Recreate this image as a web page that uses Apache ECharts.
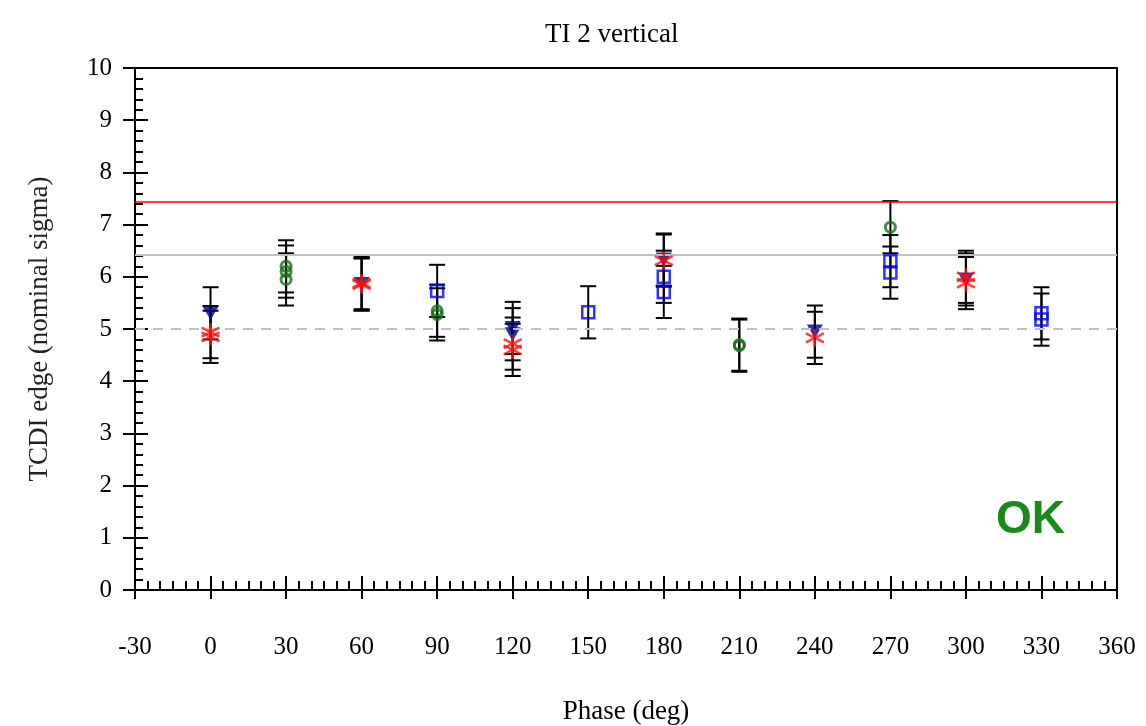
<!DOCTYPE html>
<html>
<head>
<meta charset="utf-8">
<script src="https://cdn.jsdelivr.net/npm/echarts@6/dist/echarts.min.js"></script>
<style>
  html, body { margin: 0; padding: 0; background: #fff; }
  #main { width: 1146px; height: 726px; }
</style>
</head>
<body>
<div id="main"></div>
<script>
// phase ticks
var xTicks = [-30, 0, 30, 60, 90, 120, 150, 180, 210, 240, 270, 300, 330, 360];

// navy down-triangles
var triPhase = [0, 60, 120, 120, 180, 240, 300];
var triVal   = [5.30, 5.86, 5.02, 4.90, 6.33, 4.95, 5.95];
var triErr   = [0.5, 0.5, 0.5, 0.5, 0.5, 0.5, 0.5];

// red asterisks
var starPhase = [0, 0, 60, 60, 120, 120, 180, 240, 300, 300];
var starVal   = [4.94, 4.85, 5.85, 5.88, 4.72, 4.60, 6.31, 4.83, 6.00, 5.88];
var starErr   = [0.5, 0.5, 0.5, 0.5, 0.5, 0.5, 0.5, 0.5, 0.5, 0.5];

// green circles
var circPhase = [30, 30, 30, 90, 90, 210, 210, 270];
var circVal   = [6.20, 6.10, 5.95, 5.35, 5.28, 4.68, 4.70, 6.95];
var circErr   = [0.5, 0.5, 0.5, 0.5, 0.5, 0.5, 0.5, 0.5];

// blue squares
var sqPhase = [90, 150, 180, 180, 270, 270, 330, 330];
var sqVal   = [5.73, 5.32, 6.00, 5.71, 6.30, 6.08, 5.30, 5.18];
var sqErr   = [0.5, 0.5, 0.5, 0.5, 0.5, 0.5, 0.5, 0.5];

// reference levels
var redLevel = 7.43;
var grayLevel = 6.43;
var dashLevel = 5.0;

function pts(ph, v) {
    var out = [];
    for (var i = 0; i < ph.length; i++) out.push([ph[i], v[i]]);
    return out;
}
function errs(ph, v, e) {
    var out = [];
    for (var i = 0; i < ph.length; i++) out.push([ph[i], v[i] - e[i], v[i] + e[i]]);
    return out;
}
var errData = [].concat(
    errs(triPhase, triVal, triErr),
    errs(starPhase, starVal, starErr),
    errs(circPhase, circVal, circErr),
    errs(sqPhase, sqVal, sqErr)
);

var serif = 'Liberation Serif';
var myChart = echarts.init(document.getElementById('main'));

function renderErr(params, api) {
    var x = api.value(0);
    var lo = api.coord([x, api.value(1)]);
    var hi = api.coord([x, api.value(2)]);
    var w = 8;
    var st = { stroke: '#000', lineWidth: 2 };
    return {
        type: 'group',
        children: [
            { type: 'line', shape: { x1: lo[0], y1: lo[1], x2: hi[0], y2: hi[1] }, style: st },
            { type: 'line', shape: { x1: lo[0] - w, y1: lo[1], x2: lo[0] + w, y2: lo[1] }, style: st },
            { type: 'line', shape: { x1: hi[0] - w, y1: hi[1], x2: hi[0] + w, y2: hi[1] }, style: st }
        ]
    };
}

var xBase = { type: 'value', min: -30, max: 360, interval: 30, splitLine: { show: false } };
var yBase = { type: 'value', min: 0, max: 10, interval: 1, splitLine: { show: false } };

myChart.setOption({
    animation: false,
    title: {
        text: 'TI 2 vertical',
        left: 540,
        top: 16,
        textStyle: { fontFamily: serif, fontSize: 27, fontWeight: 'normal', color: '#000' }
    },
    grid: {
        left: 135, right: 29, top: 68, bottom: 136,
        outerBoundsMode: 'none',
        containLabel: false,
        show: true, borderColor: '#000', borderWidth: 2, backgroundColor: 'transparent'
    },
    xAxis: [
        Object.assign({}, xBase, {
            position: 'bottom',
            name: 'Phase (deg)',
            nameLocation: 'middle',
            nameGap: 108,
            nameTextStyle: { fontFamily: serif, fontSize: 27, color: '#000' },
            axisLine: { onZero: false, lineStyle: { color: '#000', width: 2 } },
            axisTick: { inside: false, length: 9, lineStyle: { color: '#000', width: 2 } },
            axisLabel: {
                margin: 45, fontFamily: serif, fontSize: 25, color: '#000',
                formatter: function (v) { return xTicks.indexOf(v) >= 0 ? String(v) : ''; }
            }
        }),
        Object.assign({}, xBase, {
            position: 'bottom',
            axisLine: { show: false, onZero: false },
            axisLabel: { show: false },
            axisTick: { inside: true, length: 14, lineStyle: { color: '#000', width: 2 } },
            minorTick: { show: true, splitNumber: 6, length: 9, lineStyle: { color: '#000', width: 2 } }
        })
    ],
    yAxis: [
        Object.assign({}, yBase, {
            position: 'left',
            name: 'TCDI edge (nominal sigma)',
            nameLocation: 'middle',
            nameGap: 82,
            nameTextStyle: { fontFamily: serif, fontSize: 27, color: '#222' },
            axisLine: { onZero: false, lineStyle: { color: '#000', width: 2 } },
            axisTick: { inside: false, length: 12, lineStyle: { color: '#000', width: 2 } },
            axisLabel: { margin: 23, fontFamily: serif, fontSize: 25, color: '#000' }
        }),
        Object.assign({}, yBase, {
            position: 'left',
            axisLine: { show: false, onZero: false },
            axisLabel: { show: false },
            axisTick: { inside: true, length: 13, lineStyle: { color: '#000', width: 2 } },
            minorTick: { show: true, splitNumber: 5, length: 8, lineStyle: { color: '#000', width: 2 } }
        })
    ],
    graphic: [{
        type: 'text',
        left: 996,
        top: 497,
        style: { text: 'OK', font: 'bold 46px "Liberation Sans"', fill: '#1a8a1a' }
    }],
    series: [
        {
            type: 'line',
            data: [],
            markLine: {
                silent: true,
                symbol: 'none',
                label: { show: false },
                data: [
                    { yAxis: redLevel, lineStyle: { color: '#ff0000', width: 1.5, type: 'solid' } },
                    { yAxis: grayLevel, lineStyle: { color: '#c0c0c0', width: 2, type: 'solid' } },
                    { yAxis: dashLevel, lineStyle: { color: '#c0c0c0', width: 2, type: [10, 8] } }
                ]
            }
        },
        {
            type: 'custom',
            renderItem: renderErr,
            data: errData,
            z: 3,
            encode: { x: 0, y: [1, 2] }
        },
        {
            type: 'scatter',
            z: 4,
            symbol: 'path://M0,0L10,0L5,9Z',
            symbolSize: [16, 14],
            itemStyle: { color: '#000080' },
            data: pts(triPhase, triVal)
        },
        {
            type: 'scatter',
            z: 5,
            symbol: 'path://M0,-1L0,1M-0.87,-0.5L0.87,0.5M-0.87,0.5L0.87,-0.5',
            symbolSize: 18,
            itemStyle: { color: 'none', borderColor: '#ff1010', borderWidth: 2.5 },
            data: pts(starPhase, starVal)
        },
        {
            type: 'scatter',
            z: 5,
            symbol: 'circle',
            symbolSize: 10,
            itemStyle: { color: 'none', borderColor: '#167016', borderWidth: 3 },
            data: pts(circPhase, circVal)
        },
        {
            type: 'scatter',
            z: 5,
            symbol: 'rect',
            symbolSize: 12,
            itemStyle: { color: 'none', borderColor: '#0000ff', borderWidth: 2.5 },
            data: pts(sqPhase, sqVal)
        }
    ]
});
window.onresize = myChart.resize;
</script>
</body>
</html>
